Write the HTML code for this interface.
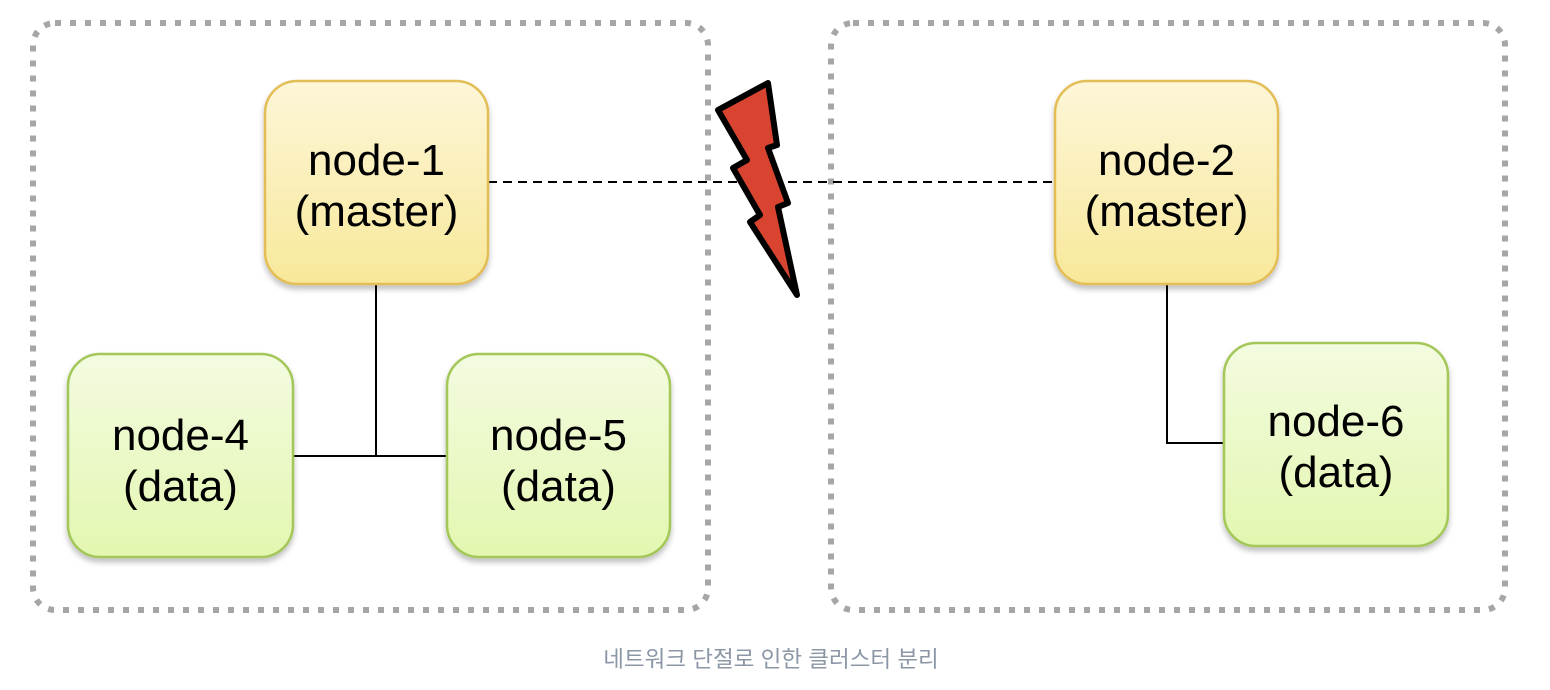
<!DOCTYPE html>
<html><head><meta charset="utf-8"><style>
html,body{margin:0;padding:0;background:#fff;width:1550px;height:690px;overflow:hidden}
</style></head><body>
<svg width="1550" height="690" xmlns="http://www.w3.org/2000/svg" style="position:absolute;left:0;top:0">
<defs>
<linearGradient id="y" x1="0" y1="0" x2="0" y2="1"><stop offset="0" stop-color="#fdf6d8"/><stop offset="1" stop-color="#f8e89a"/></linearGradient>
<linearGradient id="g" x1="0" y1="0" x2="0" y2="1"><stop offset="0" stop-color="#f3fbe0"/><stop offset="1" stop-color="#e3f7b0"/></linearGradient>
<filter id="s" x="-10%" y="-10%" width="120%" height="125%"><feDropShadow dx="0" dy="4" stdDeviation="3" flood-color="#000" flood-opacity="0.25"/></filter>
</defs>
<rect x="33" y="23" width="675" height="587" rx="22" fill="none" stroke="#a6a6a6" stroke-width="6" stroke-dasharray="6 9"/>
<rect x="831" y="23" width="674" height="587" rx="22" fill="none" stroke="#a6a6a6" stroke-width="6" stroke-dasharray="6 9"/>
<line x1="488" y1="182" x2="1055" y2="182" stroke="#000" stroke-width="2" stroke-dasharray="9 6"/>
<polyline points="376,284 376,456" fill="none" stroke="#000" stroke-width="2"/>
<line x1="293" y1="456" x2="447" y2="456" stroke="#000" stroke-width="2"/>
<polyline points="1167,284 1167,443 1224,443" fill="none" stroke="#000" stroke-width="2"/>
<polygon points="718,110 768,83 777,145 768,148 788,203 778,207 797,295 750,222 760,215 733,168 747,160" fill="#d94430" stroke="#000" stroke-width="6" stroke-linejoin="round"/>
<g font-family="Liberation Sans, sans-serif" font-size="44" text-anchor="middle" fill="#000">
<rect x="265" y="81" width="223" height="203" rx="32" fill="url(#y)" stroke="#e3bd55" stroke-width="2.5" filter="url(#s)"/>
<text x="376.5" y="175">node-1</text><text x="376.5" y="226">(master)</text>
<rect x="1055" y="81" width="223" height="203" rx="32" fill="url(#y)" stroke="#e3bd55" stroke-width="2.5" filter="url(#s)"/>
<text x="1166.5" y="175">node-2</text><text x="1166.5" y="226">(master)</text>
<rect x="68" y="354" width="225" height="203" rx="32" fill="url(#g)" stroke="#a3c759" stroke-width="2.5" filter="url(#s)"/>
<text x="180.5" y="450">node-4</text><text x="180.5" y="501">(data)</text>
<rect x="447" y="354" width="223" height="203" rx="32" fill="url(#g)" stroke="#a3c759" stroke-width="2.5" filter="url(#s)"/>
<text x="558.5" y="450">node-5</text><text x="558.5" y="501">(data)</text>
<rect x="1224" y="343" width="224" height="203" rx="32" fill="url(#g)" stroke="#a3c759" stroke-width="2.5" filter="url(#s)"/>
<text x="1336" y="436">node-6</text><text x="1336" y="487">(data)</text>
</g>
<text x="771" y="667" font-family="Liberation Sans, 'Noto Sans CJK KR', sans-serif" font-size="22.5" fill="#8c97a6" text-anchor="middle">네트워크 단절로 인한 클러스터 분리</text>
</svg>
</body></html>
